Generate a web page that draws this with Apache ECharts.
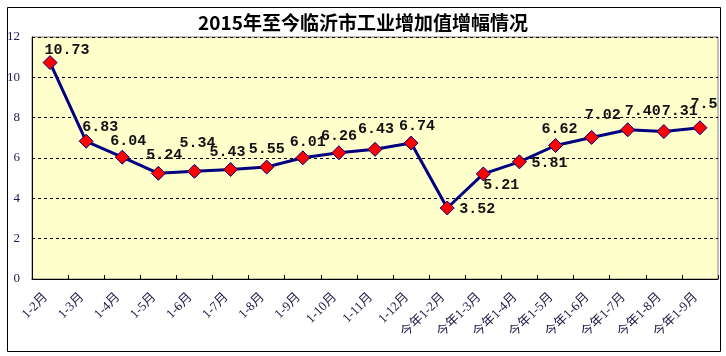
<!DOCTYPE html>
<html>
<head>
<meta charset="utf-8">
<script src="https://cdn.jsdelivr.net/npm/echarts@6/dist/echarts.min.js"></script>
<style>
html,body{margin:0;padding:0;background:#fff;}
#c{width:726px;height:356px;}
</style>
</head>
<body>
<div id="c"></div>
<script>
var categories = ['1-2月','1-3月','1-4月','1-5月','1-6月','1-7月','1-8月','1-9月','1-10月','1-11月','1-12月',
  '今年1-2月','今年1-3月','今年1-4月','今年1-5月','今年1-6月','今年1-7月','今年1-8月','今年1-9月'];
var values = [10.73, 6.83, 6.04, 5.24, 5.34, 5.43, 5.55, 6.01, 6.26, 6.43, 6.74, 3.52, 5.21, 5.81, 6.62, 7.02, 7.40, 7.31, 7.5];
var valueLabels = ['10.73','6.83','6.04','5.24','5.34','5.43','5.55','6.01','6.26','6.43','6.74','3.52','5.21','5.81','6.62','7.02','7.40','7.31','7.5'];
var yTicks = [0, 2, 4, 6, 8, 10, 12];

// label nudges (style only)
var labelNudge = [[17,-12],[14,-14],[6,-16],[6,-18],[3,-28],[-3,-17],[0,-18],[5,-16],[0,-17],[1,-20],[6,-17],
  [30,1],[18,11],[30,1],[4,-16],[11,-22],[15,-19],[16,-20],[4,-24]];

var chart = echarts.init(document.getElementById('c'), null, {renderer:'canvas'});
var seriesData = values.map(function(v, i){
  return {
    value: v,
    label: { offset: labelNudge[i], formatter: valueLabels[i] }
  };
});
chart.setOption({
  backgroundColor: '#ffffff',
  animation: false,
  title: {
    text: '2015年至今临沂市工业增加值增幅情况',
    left: 'center', top: 8,
    textStyle: { fontFamily: '"Noto Sans CJK SC", sans-serif', fontWeight: 'bold', fontSize: 19, color: '#000' }
  },
  graphic: [{
    type: 'rect', left: 5, top: 5, z: 100,
    shape: { x: 0, y: 0, width: 713, height: 344 },
    style: { fill: 'none', stroke: '#000', lineWidth: 1 }
  }],
  grid: { left: 32, right: 8, top: 37, bottom: 77, show: true, backgroundColor: '#FFFFCC', borderColor: '#808080', borderWidth: 1 },
  xAxis: {
    type: 'category', data: categories, boundaryGap: true,
    axisLine: { lineStyle: { color: '#000', width: 1 } },
    axisTick: { show: true, inside: true, length: 4, lineStyle: { color: '#000' } },
    axisLabel: { rotate: 45, interval: 0, margin: 12, fontSize: 13, color: '#1a1a44', padding: [0, 6, 6, 0],
      fontFamily: '"Liberation Serif", "Noto Sans CJK SC", serif' }
  },
  yAxis: {
    type: 'value', min: 0, max: 12, interval: 2,
    axisLine: { show: true, lineStyle: { color: '#000', width: 1 } },
    axisTick: { show: false },
    axisLabel: { margin: 12, fontSize: 13, color: '#1a1a55', fontFamily: '"Liberation Serif", serif',
      formatter: function(v){ return yTicks.indexOf(v) >= 0 ? String(v) : ''; } },
    splitLine: { show: true, lineStyle: { color: '#000', type: [3, 3], width: 1 } }
  },
  series: [{
    type: 'line', data: seriesData,
    lineStyle: { color: '#000080', width: 3 },
    itemStyle: { color: '#FF0000', borderColor: '#000080', borderWidth: 1 },
    symbol: 'diamond', symbolSize: 14,
    label: { show: true, position: 'inside', align: 'center', verticalAlign: 'middle',
      fontFamily: '"Liberation Mono", monospace', fontWeight: 'bold', fontSize: 15, color: '#111' },
    z: 5
  }]
});
</script>
</body>
</html>
